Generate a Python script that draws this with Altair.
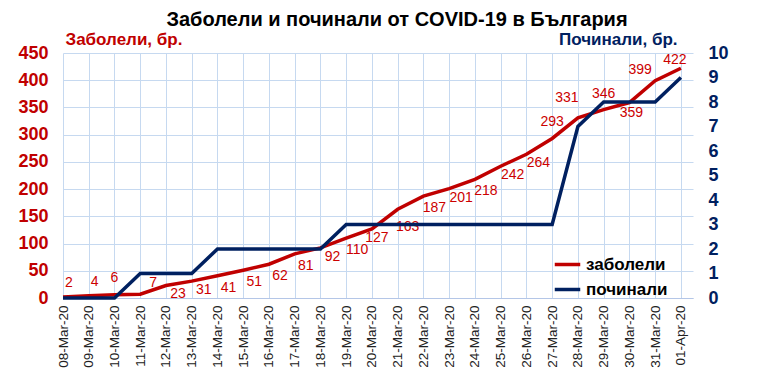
import altair as alt
import pandas as pd

dates = ["08-Mar-20", "09-Mar-20", "10-Mar-20", "11-Mar-20", "12-Mar-20", "13-Mar-20",
         "14-Mar-20", "15-Mar-20", "16-Mar-20", "17-Mar-20", "18-Mar-20", "19-Mar-20",
         "20-Mar-20", "21-Mar-20", "22-Mar-20", "23-Mar-20", "24-Mar-20", "25-Mar-20",
         "26-Mar-20", "27-Mar-20", "28-Mar-20", "29-Mar-20", "30-Mar-20", "31-Mar-20",
         "01-Apr-20"]
cases = [2, 4, 6, 7, 23, 31, 41, 51, 62, 81, 92, 110, 127, 163, 187, 201, 218, 242,
         264, 293, 331, 346, 359, 399, 422]
deaths = [0, 0, 0, 1, 1, 1, 2, 2, 2, 2, 2, 3, 3, 3, 3, 3, 3, 3, 3, 3, 7, 8, 8, 8, 9]
series_names = ["заболели", "починали"]
left_ticks = list(range(0, 451, 50))
right_ticks = list(range(0, 11))

RED = "#c00000"
LABEL_RED = "#cc0000"
NAVY = "#002060"
GRID = "#c6d9f0"
FONT = "Liberation Sans"

idx = list(range(len(dates)))
df_cases = pd.DataFrame({"i": idx, "value": cases, "series": series_names[0]})
df_deaths = pd.DataFrame({"i": idx, "value": deaths, "series": series_names[1]})

label_expr = "[" + ",".join("'%s'" % d for d in dates) + "][datum.value]"

x_enc = alt.X(
    "i:Q",
    scale=alt.Scale(domain=[0, 24.47], nice=False, zero=False),
    axis=alt.Axis(
        values=idx, labelExpr=label_expr, labelAngle=-90, labelFontSize=13.5,
        labelColor="#222222", labelPadding=7, ticks=False, grid=True,
        gridColor=GRID, domainColor="#b4c6e7", title=None, labelOverlap=False,
    ),
)

color_enc = alt.Color(
    "series:N",
    scale=alt.Scale(domain=series_names, range=[RED, NAVY]),
    legend=alt.Legend(
        orient="none", legendX=490, legendY=197, title=None,
        symbolType="stroke", symbolStrokeWidth=3.5, symbolSize=650,
        labelFontSize=17, labelFontWeight="bold", labelColor="black",
        labelFont=FONT, rowPadding=2, padding=0, labelOffset=4,
    ),
)

y_left = alt.Y(
    "value:Q",
    scale=alt.Scale(domain=[0, 450], nice=False),
    axis=alt.Axis(
        values=left_ticks, labelColor=RED, labelFontSize=18, labelFontWeight="bold",
        labelPadding=15, ticks=False, domain=False, grid=True, gridColor=GRID,
        labelOverlap=False,
        title="Заболели, бр.", titleAngle=0, titleX=2, titleY=-14,
        titleAlign="left", titleBaseline="middle", titleColor=RED,
        titleFontSize=17, titleFontWeight="bold",
    ),
)

red_line = alt.Chart(df_cases).mark_line(strokeWidth=3.5).encode(
    x=x_enc, y=y_left, color=color_enc
)

# label placement offsets (dx, dy) -> indices
placements = [
    ((6, -14), [0, 1]),
    ((0, -17), [2]),
    ((13, -11), [3]),
    ((12, 9), [4, 5, 10, 15, 17, 18]),
    ((11, 12), [6, 7, 8, 9, 11, 14, 16]),
    ((5, 9), [12]),
    ((10, 18), [13]),
    ((0, -16), [19, 21]),
    ((-11, -20), [20]),
    ((2, 10), [22]),
    ((-15, -11), [23]),
    ((-6, -8), [24]),
]

label_layers = []
for (dx, dy), members in placements:
    label_layers.append(
        alt.Chart(df_cases).transform_filter(
            alt.FieldOneOfPredicate(field="i", oneOf=members)
        ).mark_text(
            dx=dx, dy=dy, fontSize=14, color=LABEL_RED, align="center",
            baseline="middle", font=FONT,
        ).encode(
            x=x_enc,
            y=y_left,
            text=alt.Text("value:Q"),
        )
    )

left = alt.layer(red_line, *label_layers)

navy_line = alt.Chart(df_deaths).mark_line(strokeWidth=3.5).encode(
    x=x_enc,
    y=alt.Y(
        "value:Q",
        scale=alt.Scale(domain=[0, 10], nice=False),
        axis=alt.Axis(
            orient="right", values=right_ticks, labelColor=NAVY, labelFontSize=18,
            labelFontWeight="bold", labelPadding=15, labelAlign="left",
            ticks=False, domain=False, grid=False, labelOverlap=False,
            title="Починали, бр.", titleAngle=0, titleX=-16, titleY=-14,
            titleAlign="right", titleBaseline="middle", titleColor=NAVY,
            titleFontSize=17, titleFontWeight="bold",
        ),
    ),
    color=color_enc,
)

chart = alt.layer(left, navy_line).resolve_scale(y="independent").properties(
    width=630,
    height=245,
    title=alt.TitleParams(
        "Заболели и починали от COVID-19 в България", fontSize=20,
        fontWeight="bold", font=FONT, color="black", anchor="middle", dx=19, dy=4,
    ),
    autosize=alt.AutoSizeParams(type="none"),
    padding={"left": 55, "top": 45, "right": 67, "bottom": 73},
    background="white",
).configure(font=FONT).configure_view(strokeWidth=0)

chart.save("out.html", embed_options={"renderer": "svg", "actions": False})
